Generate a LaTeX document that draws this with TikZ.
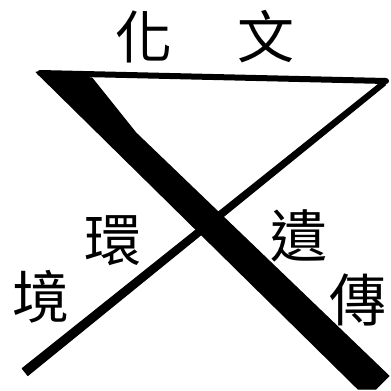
\documentclass[tikz,border=0pt]{standalone}
\usepackage{fontspec}
\newfontfamily\cjk{Noto Sans CJK TC}
\begin{document}
\begin{tikzpicture}[x=1pt,y=-1pt,
  ink/.style={fill=black,draw=black,line width=1pt,line join=round},
  glyph/.style={inner sep=0pt,font=\cjk\fontsize{57}{57}\selectfont}]
\useasboundingbox (0,0) rectangle (391,391);
% horizontal bar
\draw[line width=6pt,line cap=round] (40,73) -- (386,81);
% thick diagonal band
\filldraw[ink] (36,72) -- (92,78) -- (136,133) -- (389,376) -- (376,389) -- (358,389) -- cycle;
% thin diagonal (tapered)
\filldraw[ink] (385.6,84.9) -- (382.4,81.1) -- (22.2,368.5) -- (27.8,375.5) -- cycle;
% labels
\node[glyph] (hua) at (144,37) {化};
\node[glyph] (wen) at (266,37) {文};
\node[glyph] (huan) at (113,241) {環};
\node[glyph] (jing) at (41,297) {境};
\node[glyph] (yi) at (299,236) {遺};
\node[glyph] (chuan) at (358,300) {傳};
\end{tikzpicture}
\end{document}
